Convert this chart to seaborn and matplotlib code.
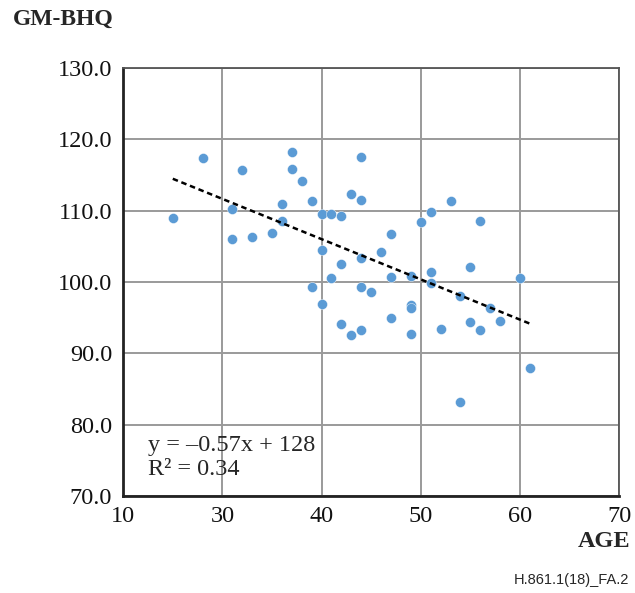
import numpy as np
import pandas as pd
import matplotlib
matplotlib.use("Agg")
import matplotlib.pyplot as plt
import seaborn as sns

# values
age = [25, 28, 31, 31, 32, 33, 35, 36, 36, 37, 37, 38, 39, 39, 40, 40, 40, 41, 41,
       42, 42, 42, 43, 43, 44, 44, 44, 44, 44, 45, 46, 47, 47, 47, 49, 49, 49, 49,
       50, 51, 51, 51, 52, 53, 54, 54, 55, 55, 56, 56, 57, 58, 60, 61]
gm_bhq = [109.0, 117.4, 110.2, 106.0, 115.7, 106.3, 106.9, 110.9, 108.5, 118.2, 115.8,
          114.2, 111.4, 99.3, 109.6, 104.5, 96.9, 109.6, 100.6, 109.3, 102.5, 94.1,
          112.4, 92.5, 117.5, 111.5, 103.3, 99.3, 93.3, 98.6, 104.2, 106.7, 100.75,
          94.9, 100.9, 96.8, 96.3, 92.7, 108.4, 109.8, 101.4, 99.8, 93.45, 111.3,
          98.0, 83.2, 102.1, 94.4, 108.6, 93.3, 96.4, 94.6, 100.6, 87.9]

x_ticks = [20, 30, 40, 50, 60, 70]
x_tick_labels = ["10", "30", "40", "50", "60", "70"]
y_ticks = [70, 80, 90, 100, 110, 120, 130]

df = pd.DataFrame({"AGE": age, "GM-BHQ": gm_bhq})

sns.set_style("white")
plt.rcParams["font.family"] = ["Liberation Serif", "DejaVu Serif"]

fig = plt.figure(figsize=(6.35, 5.93), dpi=100)
ax = fig.add_axes([0.194, 0.1636, 0.781, 0.7217])

sns.regplot(data=df, x="AGE", y="GM-BHQ", ax=ax, ci=None,
            scatter_kws=dict(s=52, color="#5B9BD5", edgecolor="white", linewidths=0.3,
                             alpha=1, zorder=3),
            line_kws=dict(color="black", linestyle=(0, (2.2, 1.5)), linewidth=1.8, zorder=4))

ax.set_xlim(20, 70)
ax.set_ylim(70, 130)
ax.set_xticks(x_ticks)
ax.set_xticklabels(x_tick_labels)
ax.set_yticks(y_ticks)
ax.set_yticklabels([f"{v:.1f}" for v in y_ticks])
ax.tick_params(labelsize=17.5, length=0, colors="#111111")
ax.tick_params(axis="y", pad=8)
ax.tick_params(axis="x", pad=7)
ax.grid(True, color="#9a9a9a", linewidth=1.4)
ax.set_axisbelow(True)
for s in ax.spines.values():
    s.set_visible(True)
    s.set_color("#555555")
    s.set_linewidth(1.3)
ax.spines["left"].set_color("#222222")
ax.spines["bottom"].set_color("#222222")
ax.spines["left"].set_linewidth(2)
ax.spines["bottom"].set_linewidth(2)
ax.set_xlabel("")
ax.set_ylabel("")

fig.text(0.02, 0.985, "GM-BHQ", fontsize=17, fontweight="bold", ha="left", va="top")
fig.text(0.993, 0.087, "AGE", fontsize=17.5, fontweight="bold", ha="right", va="center")
fig.text(0.99, 0.022, "H.861.1(18)_FA.2", fontsize=10.5, family=["Liberation Sans", "DejaVu Sans"],
         ha="right", va="center")

ax.text(0.05, 0.118, "y = \u20130.57x + 128", transform=ax.transAxes, fontsize=17.5, va="center")
ax.text(0.05, 0.062, "R\u00b2 = 0.34", transform=ax.transAxes, fontsize=17.5, va="center")

fig.savefig("out.png", dpi=100, facecolor="white")
